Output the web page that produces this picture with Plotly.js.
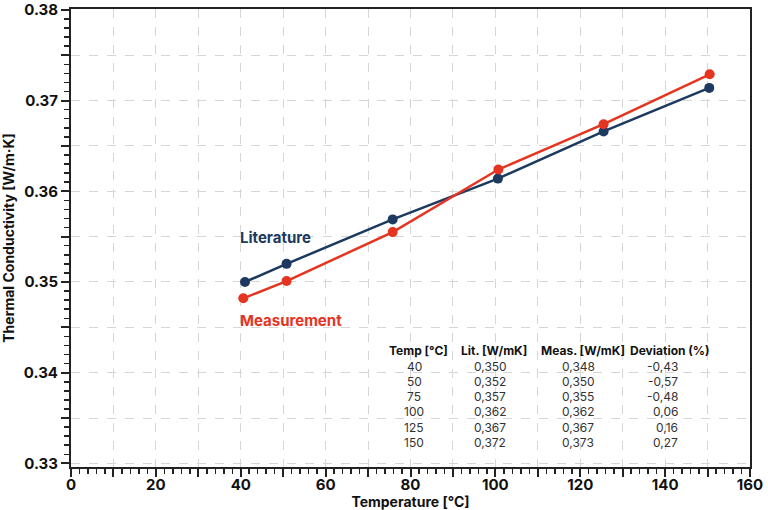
<!DOCTYPE html>
<html><head><meta charset="utf-8">
<script src="https://cdn.plot.ly/plotly-3.0.1.min.js"></script>
<style>html,body{margin:0;padding:0;background:#fff}#chart{width:768px;height:510px}</style>
</head><body><div id="chart"></div>
<script>
// Plotted points
const litX  = [41.0, 50.8, 75.8, 100.6, 125.5, 150.4];
const litY  = [0.3500, 0.3520, 0.3569, 0.3614, 0.3666, 0.3714];
const measX = [40.6, 50.8, 75.8, 100.7, 125.5, 150.5];
const measY = [0.3482, 0.3501, 0.3555, 0.3624, 0.3674, 0.3729];

// Table contents
const tableHeaders = ['Temp [°C]', 'Lit. [W/mK]', 'Meas. [W/mK]', 'Deviation (%)'];
const tableTemp = ['40', '50', '75', '100', '125', '150'];
const tableLit  = ['0,350', '0,352', '0,357', '0,362', '0,367', '0,372'];
const tableMeas = ['0,348', '0,350', '0,355', '0,362', '0,367', '0,373'];
const tableDev  = ['-0,43', '-0,57', '-0,48', '0,06', '0,16', '0,27'];

// Tick labels
const xTickVals = [0,10,20,30,40,50,60,70,80,90,100,110,120,130,140,150,160];
const xTickText = ['0','','20','','40','','60','','80','','100','','120','','140','','160'];
const yTickVals = [0.33,0.335,0.34,0.345,0.35,0.355,0.36,0.365,0.37,0.375,0.38];
const yTickText = ['0.33','','0.34','','0.35','','0.36','','0.37','','0.38'];

const NAVY = '#1c3a60';
const RED = '#e5341f';
const FONT = 'Inter, "DejaVu Sans", sans-serif';

const L = 71, R = 18, T = 9, B = 43, W = 768, H = 510;
const pw = W - L - R, ph = H - T - B;
const px = v => (v - L) / pw;
const py = v => (H - B - v) / ph;

const traces = [
  {x: litX, y: litY, mode: 'lines+markers', name: 'Literature',
   line: {color: NAVY, width: 2.5}, marker: {color: NAVY, size: 10}},
  {x: measX, y: measY, mode: 'lines+markers', name: 'Measurement',
   line: {color: RED, width: 2.5}, marker: {color: RED, size: 10}}
];

const annotations = [
  {x: 39.3, y: 0.3549, xref: 'x', yref: 'y', xanchor: 'left', yanchor: 'middle', showarrow: false,
   text: '<b>Literature</b>', font: {family: FONT, size: 15, color: NAVY}},
  {x: 39.3, y: 0.3458, xref: 'x', yref: 'y', xanchor: 'left', yanchor: 'middle', showarrow: false,
   text: '<b>Measurement</b>', font: {family: FONT, size: 15, color: RED}}
];

const headerX = [418, 494, 583, 670];
const colX = [414, 490, 578, 680];
const colAnchor = ['center', 'center', 'center', 'right'];
const headerY = 350, rowY0 = 366, rowStep = 15.3;
tableHeaders.forEach((h, i) => {
  annotations.push({x: px(headerX[i]), y: py(headerY), xref: 'paper', yref: 'paper',
    xanchor: 'center', yanchor: 'middle', showarrow: false,
    text: '<b>' + h + '</b>', font: {family: FONT, size: 12, color: '#111'}});
});
const cols = [tableTemp, tableLit, tableMeas, tableDev];
cols.forEach((col, c) => {
  col.forEach((t, r) => {
    annotations.push({x: px(colX[c]), y: py(rowY0 + r * rowStep), xref: 'paper', yref: 'paper',
      xanchor: colAnchor[c], yanchor: 'middle', showarrow: false,
      text: t, font: {family: FONT, size: 12, color: '#333'}});
  });
});

const layout = {
  width: W, height: H,
  margin: {l: L, r: R, t: T, b: B, pad: 0},
  paper_bgcolor: '#fff', plot_bgcolor: '#fff',
  showlegend: false,
  font: {family: FONT, color: '#111'},
  xaxis: {
    range: [0, 160], tickvals: xTickVals, ticktext: xTickText,
    ticks: 'outside', ticklen: 8, tickwidth: 2, tickcolor: '#222',
    showline: true, linecolor: '#222', linewidth: 2, mirror: true,
    showgrid: true, gridcolor: '#d6d6d6', griddash: 'dash', gridwidth: 1,
    zeroline: false, ticklabelstandoff: -5, ticklabeloverflow: 'allow',
    tickfont: {family: FONT, size: 15, color: '#111', weight: 'bold'},
    minor: {dtick: 2, ticks: 'outside', ticklen: 5, tickwidth: 1.5, tickcolor: '#222', showgrid: false},
    title: {text: '<b>Temperature [°C]</b>', font: {family: FONT, size: 14, color: '#111'}, standoff: 2}
  },
  yaxis: {
    range: [0.3296, 0.3801], tickvals: yTickVals, ticktext: yTickText,
    ticks: 'outside', ticklen: 8, tickwidth: 2, tickcolor: '#222',
    showline: true, linecolor: '#222', linewidth: 2, mirror: true,
    showgrid: true, gridcolor: '#d6d6d6', griddash: 'dash', gridwidth: 1,
    zeroline: false, ticklabeloverflow: 'allow',
    tickfont: {family: FONT, size: 15, color: '#111', weight: 'bold'},
    minor: {dtick: 0.001, ticks: 'outside', ticklen: 5, tickwidth: 1.5, tickcolor: '#222', showgrid: false},
    title: {text: '<b>Thermal Conductivity [W/m·K]</b>', font: {family: FONT, size: 14, color: '#111'}, standoff: 6}
  },
  annotations: annotations
};

Plotly.newPlot('chart', traces, layout, {displayModeBar: false, staticPlot: true});
</script>
</body></html>
